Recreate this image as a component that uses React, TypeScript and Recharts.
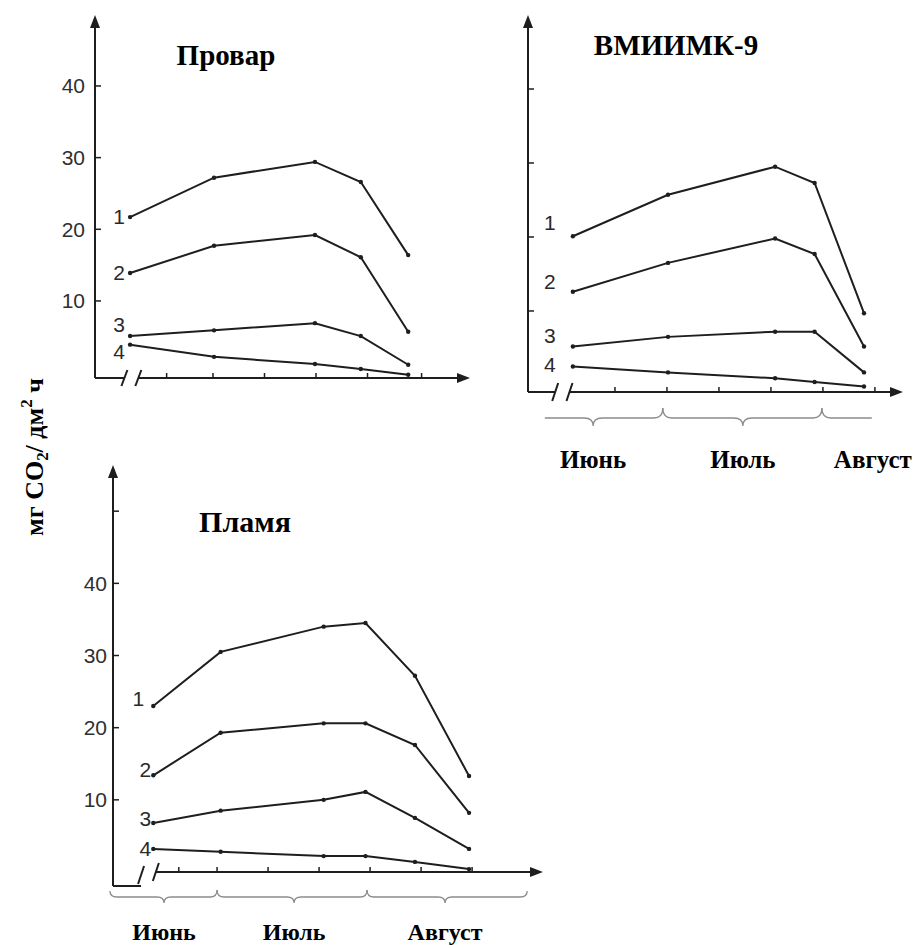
import React from 'react';
import { LineChart, Line, XAxis, YAxis, ReferenceLine, ReferenceDot } from 'recharts';

// ---------- DATA (x = day of season, 1 = 1 June; y = мг CO2 / дм² ч) ----------
// Провар
const provarDays = [14.9, 31.2, 50.8, 59.7, 68.9];
const provar1 = [21.7, 27.2, 29.4, 26.6, 16.4];
const provar2 = [13.9, 17.7, 19.2, 16.1, 5.7];
const provar3 = [5.1, 5.9, 6.9, 5.1, 1.1];
const provar4 = [3.9, 2.2, 1.2, 0.5, -0.3];
const provarXTicks = [22, 31, 41, 51, 61, 71.5];

// ВМИИМК-9
const vniimkDays = [12.9, 31.2, 51.8, 59.4, 68.9];
const vniimk1 = [20.1, 25.7, 29.5, 27.3, 9.7];
const vniimk2 = [12.6, 16.5, 19.8, 17.7, 5.2];
const vniimk3 = [5.2, 6.5, 7.2, 7.2, 1.7];
const vniimk4 = [2.5, 1.7, 0.9, 0.4, -0.2];
const vniimkXTicks = [21, 31, 41, 51, 61, 71];

// Пламя
const plamyaDays = [18.5, 31.7, 51.9, 60.1, 69.8, 80.4];
const plamya1 = [23.0, 30.5, 34.0, 34.5, 27.2, 13.3];
const plamya2 = [13.4, 19.3, 20.6, 20.6, 17.6, 8.2];
const plamya3 = [6.8, 8.5, 10.0, 11.1, 7.5, 3.2];
const plamya4 = [3.2, 2.8, 2.2, 2.2, 1.4, 0.4];
const plamyaXTicks = [23.5, 31, 41, 51, 61, 71, 81];

const seriesNames = ['1', '2', '3', '4'];
const yTicksLabeled = [10, 20, 30, 40];
const yTicksPlamya = [10, 20, 30, 40, 50];
const months = ['Июнь', 'Июль', 'Август'];

// month braces (boundaries in days) and label positions
const vniimkMonthBounds = [7.5, 30.2, 60.8, 70.4];
const vniimkMonthLabelDays = [16.8, 45.6, 70.6];
const plamyaMonthBounds = [10.0, 31.0, 60.4, 91.8];
const plamyaMonthLabelDays = [20.6, 46.1, 75.7];

const titles = ['Провар', 'ВМИИМК-9', 'Пламя'];

// ---------- STYLE ----------
const SERIF = '"Liberation Serif", "Times New Roman", serif';
const SANS = '"Liberation Sans", Arial, sans-serif';
const INK = '#1e1e1e';

const arrowLine = (props: any) => {
  const { x1, y1, x2, y2 } = props;
  const dx = x2 - x1;
  const dy = y2 - y1;
  const len = Math.hypot(dx, dy) || 1;
  const ux = dx / len;
  const uy = dy / len;
  const L = 13;
  const W = 5;
  const bx = x2 - ux * L;
  const by = y2 - uy * L;
  const px = -uy;
  const py = ux;
  return (
    <g>
      <line x1={x1} y1={y1} x2={bx + ux * 3} y2={by + uy * 3} stroke={INK} strokeWidth={2} />
      <path d={`M${x2},${y2} L${bx + px * W},${by + py * W} L${bx - px * W},${by - py * W} Z`} fill={INK} />
    </g>
  );
};

const slash = (cx: number, cy: number, h: number) => (
  <line x1={cx - 3} y1={cy + h} x2={cx + 3} y2={cy - h} stroke={INK} strokeWidth={2} />
);

const leftPiece = (slashDy: number, h: number) => (props: any) => {
  const { x1, y1, x2, y2 } = props;
  return (
    <g>
      <line x1={x1} y1={y1} x2={x2} y2={y2} stroke={INK} strokeWidth={2} />
      {slash(x2, y2 + slashDy, h)}
    </g>
  );
};

const rightPiece = (h: number) => (props: any) => {
  const { x1, y1 } = props;
  return (
    <g>
      {slash(x1, y1, h)}
      {arrowLine(props)}
    </g>
  );
};

const xTickShape = (props: any) => (
  <line x1={props.cx} y1={props.cy} x2={props.cx} y2={props.cy - 5} stroke={INK} strokeWidth={1.5} />
);

const braceShape = (o: { dy: number; dip: number | null; dipFrac: number; hookL: number; hookR: number; depth: number; r: number }) => (props: any) => {
  const { x1, x2, y1 } = props;
  const y = y1 + o.dy;
  const r = o.r;
  let d = `M${x1},${y - o.hookL} Q${x1},${y} ${x1 + r},${y} `;
  if (o.dip !== null) {
    const xm = x1 + o.dipFrac * (x2 - x1);
    d += `L${xm - r},${y} Q${xm},${y} ${xm},${y + o.depth} Q${xm},${y} ${xm + r},${y} `;
  }
  d += `L${x2 - r},${y} Q${x2},${y} ${x2},${y - o.hookR}`;
  return <path d={d} stroke="#8c8c8c" strokeWidth={1.3} fill="none" />;
};

const monthLabelShape = (text: string, dy: number, size: number) => (props: any) => (
  <text x={props.cx} y={props.cy + dy} textAnchor="middle" fontFamily={SERIF} fontWeight="bold" fontSize={size} fill="#000">
    {text}
  </text>
);

const numberShape = (text: string, dx: number, dy: number) => (props: any) => (
  <text x={props.cx + dx} y={props.cy + dy} textAnchor="middle" dominantBaseline="central" fontFamily={SANS} fontSize={21} fill="#2a2a2a">
    {text}
  </text>
);

const yTick = (showMax: number, gap: number) => (props: any) => {
  const { x, y, payload } = props;
  return (
    <g>
      <line x1={x} y1={y} x2={x + 6} y2={y} stroke={INK} strokeWidth={1.5} />
      {payload.value <= showMax && (
        <text x={x - gap} y={y} textAnchor="end" dominantBaseline="central" fontFamily={SANS} fontSize={21} fill="#2f2f2f">
          {payload.value}
        </text>
      )}
    </g>
  );
};

type PanelCfg = {
  left: number;
  top: number;
  width: number;
  height: number;
  margin: { top: number; right: number; bottom: number; left: number };
  yAxisWidth: number;
  xDomain: [number, number];
  yDomain: [number, number];
  axisY: number;
  breakL: number;
  breakR: number;
  slashDy: number;
  slashH: number;
  days: number[];
  series: number[][];
  xTicks: number[];
  yTicks: number[];
  yShowMax: number;
  yGap: number;
  numOffsets: [number, number][];
  braces?: { bounds: number[]; labelDays: number[]; dy: number; depth: number; peak: number; r: number; outerHookL: number; outerHookR: number; dips: boolean[]; labelDy: number; labelSize: number };
};

function Panel({ cfg }: { cfg: PanelCfg }) {
  const data = cfg.days.map((d, i) => {
    const row: any = { day: d };
    cfg.series.forEach((s, k) => {
      row['s' + k] = s[i];
    });
    return row;
  });
  const [x0, x1] = cfg.xDomain;
  const [y0, y1] = cfg.yDomain;
  const b = cfg.braces;
  return (
    <div style={{ position: 'absolute', left: cfg.left, top: cfg.top }}>
      <LineChart width={cfg.width} height={cfg.height} data={data} margin={cfg.margin}>
        <XAxis type="number" dataKey="day" domain={cfg.xDomain} allowDataOverflow hide />
        <YAxis
          type="number"
          domain={cfg.yDomain}
          allowDataOverflow
          ticks={cfg.yTicks}
          interval={0}
          width={cfg.yAxisWidth}
          axisLine={false}
          tickLine={false}
          tickSize={0}
          tickMargin={0}
          tick={yTick(cfg.yShowMax, cfg.yGap)}
        />
        {/* y axis with arrow */}
        <ReferenceLine segment={[{ x: x0, y: y0 }, { x: x0, y: y1 }]} ifOverflow="visible" shape={arrowLine} />
        {/* x axis, broken */}
        <ReferenceLine segment={[{ x: x0, y: y0 }, { x: cfg.breakL, y: y0 }]} ifOverflow="visible" shape={leftPiece(cfg.slashDy, cfg.slashH)} />
        <ReferenceLine segment={[{ x: cfg.breakR, y: cfg.axisY }, { x: x1, y: cfg.axisY }]} ifOverflow="visible" shape={rightPiece(cfg.slashH)} />
        {cfg.xTicks.map((t) => (
          <ReferenceDot key={'xt' + t} x={t} y={cfg.axisY} ifOverflow="visible" shape={xTickShape} />
        ))}
        {b &&
          months.map((m, i) => {
            const from = b.bounds[i];
            const to = b.bounds[i + 1];
            const hookL = i === 0 ? b.outerHookL : b.peak;
            const hookR = i === months.length - 1 ? b.outerHookR : b.peak;
            return (
              <ReferenceLine
                key={'br' + i}
                segment={[{ x: from, y: cfg.axisY }, { x: to, y: cfg.axisY }]}
                ifOverflow="visible"
                shape={braceShape({
                  dy: b.dy,
                  dip: b.dips[i] ? 1 : null,
                  dipFrac: (b.labelDays[i] - from) / (to - from),
                  hookL,
                  hookR,
                  depth: b.depth,
                  r: b.r,
                })}
              />
            );
          })}
        {b &&
          months.map((m, i) => (
            <ReferenceDot key={'ml' + i} x={b.labelDays[i]} y={cfg.axisY} ifOverflow="visible" shape={monthLabelShape(m, b.labelDy, b.labelSize)} />
          ))}
        {cfg.series.map((s, k) => (
          <Line
            key={'l' + k}
            type="linear"
            dataKey={'s' + k}
            stroke={INK}
            strokeWidth={2}
            dot={{ r: 2.2, fill: INK, stroke: INK, strokeWidth: 0 }}
            activeDot={false}
            isAnimationActive={false}
          />
        ))}
        {cfg.series.map((s, k) => (
          <ReferenceDot
            key={'n' + k}
            x={cfg.days[0]}
            y={s[0]}
            ifOverflow="visible"
            shape={numberShape(seriesNames[k], cfg.numOffsets[k][0], cfg.numOffsets[k][1])}
          />
        ))}
      </LineChart>
    </div>
  );
}

const provarCfg: PanelCfg = {
  left: 0,
  top: 0,
  width: 480,
  height: 400,
  margin: { top: 15, right: 10, bottom: 22, left: 0 },
  yAxisWidth: 95,
  xDomain: [8.09, 80.9],
  yDomain: [-0.75, 49.9],
  axisY: -0.75,
  breakL: 13.8,
  breakR: 16.5,
  slashDy: 0,
  slashH: 8,
  days: provarDays,
  series: [provar1, provar2, provar3, provar4],
  xTicks: provarXTicks,
  yTicks: yTicksLabeled,
  yShowMax: 40,
  yGap: 10,
  numOffsets: [[-11, -1], [-11, -1], [-11, -12], [-11, 7]],
};

const vniimkCfg: PanelCfg = {
  left: 440,
  top: 0,
  width: 476,
  height: 480,
  margin: { top: 15, right: 13, bottom: 88, left: 0 },
  yAxisWidth: 88,
  xDomain: [4.27, 76.4],
  yDomain: [-0.95, 50],
  axisY: -0.95,
  breakL: 9.5,
  breakR: 12.25,
  slashDy: 0,
  slashH: 9,
  days: vniimkDays,
  series: [vniimk1, vniimk2, vniimk3, vniimk4],
  xTicks: vniimkXTicks,
  yTicks: yTicksLabeled,
  yShowMax: 0,
  yGap: 10,
  numOffsets: [[-23, -14], [-23, -10], [-23, -11], [-23, -2]],
  braces: {
    bounds: vniimkMonthBounds,
    labelDays: vniimkMonthLabelDays,
    dy: 26,
    depth: 8,
    peak: 10,
    r: 9,
    outerHookL: 0,
    outerHookR: 0,
    dips: [true, true, false],
    labelDy: 76,
    labelSize: 25,
  },
};

const plamyaCfg: PanelCfg = {
  left: 0,
  top: 440,
  width: 560,
  height: 508,
  margin: { top: 25, right: 17, bottom: 62, left: 0 },
  yAxisWidth: 113,
  xDomain: [10.6, 94.9],
  yDomain: [-1.94, 56.4],
  axisY: 0,
  breakL: 16.1,
  breakR: 19.0,
  slashDy: -11,
  slashH: 9,
  days: plamyaDays,
  series: [plamya1, plamya2, plamya3, plamya4],
  xTicks: plamyaXTicks,
  yTicks: yTicksPlamya,
  yShowMax: 40,
  yGap: 6,
  numOffsets: [[-15, -8], [-8, -6], [-8, -4], [-8, 0]],
  braces: {
    bounds: plamyaMonthBounds,
    labelDays: plamyaMonthLabelDays,
    dy: 25,
    depth: 6,
    peak: 7,
    r: 7,
    outerHookL: 6,
    outerHookR: 6,
    dips: [true, true, true],
    labelDy: 68,
    labelSize: 24,
  },
};

export default function App() {
  return (
    <div style={{ position: 'absolute', left: 0, top: 0, width: 916, height: 948, background: '#fff', overflow: 'hidden' }}>
      <Panel cfg={provarCfg} />
      <Panel cfg={vniimkCfg} />
      <Panel cfg={plamyaCfg} />
      <svg width={916} height={948} style={{ position: 'absolute', left: 0, top: 0, pointerEvents: 'none' }}>
        <text x={226} y={65} textAnchor="middle" fontFamily={SERIF} fontWeight="bold" fontSize={29} fill="#000">
          {titles[0]}
        </text>
        <text x={676} y={55} textAnchor="middle" fontFamily={SERIF} fontWeight="bold" fontSize={29} fill="#000">
          {titles[1]}
        </text>
        <text x={245} y={532} textAnchor="middle" fontFamily={SERIF} fontWeight="bold" fontSize={30} fill="#000">
          {titles[2]}
        </text>
        <text transform="translate(43,457) rotate(-90)" textAnchor="middle" fontFamily={SERIF} fontWeight="bold" fontSize={26} fill="#000">
          <tspan>мг CO</tspan>
          <tspan fontSize={17} dy={5}>2</tspan>
          <tspan dy={-5}>/ дм</tspan>
          <tspan fontSize={17} dy={-11}>2</tspan>
          <tspan dy={11}> ч</tspan>
        </text>
      </svg>
    </div>
  );
}
